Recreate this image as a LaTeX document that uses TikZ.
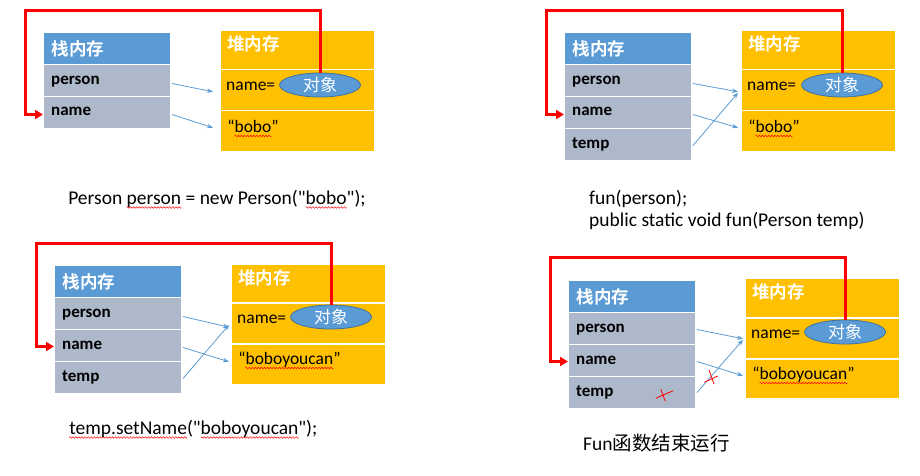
\documentclass[tikz,border=0pt]{standalone}
\usepackage{fontspec}
\setmainfont{Carlito}[Ligatures=TeXOff]
\newfontfamily\cjk{Noto Sans CJK SC}[BoldFont={Noto Sans CJK SC Bold}]
\usetikzlibrary{arrows.meta,shapes.geometric}
\definecolor{stkblue}{HTML}{5B9BD5}
\definecolor{stkgray}{HTML}{ADB9CA}
\definecolor{heaporange}{HTML}{FFC000}
\definecolor{ellborder}{HTML}{41719C}
\definecolor{ptrblue}{HTML}{5B9BD5}
\newsavebox\rwbox
\newcommand\wavepiece{\begin{pgfpicture}\pgfpathrectangle{\pgfpointorigin}{\pgfpoint{3pt}{0pt}}\pgfusepath{use as bounding box}\pgfsetlinewidth{0.5pt}\pgfsetstrokecolor{red}\pgfpathmoveto{\pgfpointorigin}\pgfpathsine{\pgfpoint{0.75pt}{0.8pt}}\pgfpathcosine{\pgfpoint{0.75pt}{-0.8pt}}\pgfpathsine{\pgfpoint{0.75pt}{-0.8pt}}\pgfpathcosine{\pgfpoint{0.75pt}{0.8pt}}\pgfusepath{stroke}\end{pgfpicture}}
\newcommand\redwave[1]{\setbox\rwbox\hbox{#1}\rlap{\lower3.5pt\hbox to\wd\rwbox{\xleaders\hbox{\wavepiece}\hfil}}\box\rwbox}
\begin{document}
\begin{tikzpicture}[x=1pt,y=-1pt,
  stkhead/.style={anchor=north west, fill=stkblue, draw=white, line width=1pt, text=white, minimum height=32pt, text width=111pt, inner xsep=8pt, inner ysep=0pt, align=left, font=\cjk\bfseries\fontsize{17.5}{20}\selectfont},
  stkrow/.style={anchor=north west, fill=stkgray, draw=white, line width=1pt, minimum height=32pt, minimum width=127pt, inner sep=0pt},
  stklbl/.style={anchor=base west, inner sep=0pt, font=\bfseries\fontsize{17}{20}\selectfont},
  heaprow/.style={anchor=north west, fill=heaporange, draw=white, line width=1.5pt, minimum width=155pt, inner sep=0pt},
  htxt/.style={anchor=base west, inner sep=0pt, font=\fontsize{17.5}{20}\selectfont},
  hhead/.style={anchor=west, inner sep=0pt, text=white, font=\cjk\bfseries\fontsize{17.5}{20}\selectfont},
  obj/.style={ellipse, fill=stkblue, draw=ellborder, line width=0.8pt, minimum width=81pt, minimum height=24pt, inner sep=0pt, text=white, font=\cjk\fontsize{17}{20}\selectfont},
  ptr/.style={draw=ptrblue, line width=0.8pt, -{Stealth[length=6pt,width=4.5pt]}},
  refline/.style={draw=red, line width=3pt, -{Triangle[length=8pt,width=9pt]}},
  caption/.style={anchor=base west, inner sep=0pt, font=\fontsize{19.5}{22}\selectfont},
  cross/.style={draw=red, line width=0.8pt}
]
\useasboundingbox (0,0) rectangle (920,476);

% ---------- Panel 1 ----------
\node[stkhead] (s1h) at (43,32) {栈内存};
\node[stkrow] (s1p) at (43,64) {};
\node[stkrow] (s1n) at (43,96) {};
\node[stklbl] (l1p) at ([xshift=8pt,yshift=-21pt]s1p.north west) {person};
\node[stklbl] (l1n) at ([xshift=8pt,yshift=-20pt]s1n.north west) {name};
\node[heaprow, minimum height=39pt] (h1h) at (219,30) {};
\node[heaprow, minimum height=41pt] (h1n) at (219,69) {};
\node[heaprow, minimum height=41pt] (h1v) at (219,110) {};
\node[hhead] (t1h) at ([xshift=8pt,yshift=-14pt]h1h.north west) {堆内存};
\node[htxt] (t1n) at ([xshift=7pt,yshift=-21.5pt]h1n.north west) {name=};
\node[htxt] (t1v) at ([xshift=8pt,yshift=-22.5pt]h1v.north west) {“\redwave{bobo}”};
\node[obj] (e1) at (320,85) {对象};
\draw[ptr] ([xshift=1pt,yshift=-3pt]s1p.east) -- ([xshift=-6pt,yshift=-1.5pt]h1n.west);
\draw[ptr] ([xshift=1pt,yshift=-2pt]s1n.east) -- ([xshift=-6pt,yshift=3.5pt]h1v.west);
\coordinate (r1) at (25,11);
\draw[refline] (e1.north) |- (r1) |- ([yshift=-2pt]s1n.west);
\node[caption] (c1) at (68,204) {Person \redwave{person} = new Person("\redwave{bobo}");};

% ---------- Panel 2 ----------
\node[stkhead] (s2h) at (564,32) {栈内存};
\node[stkrow] (s2p) at (564,64) {};
\node[stkrow] (s2n) at (564,96) {};
\node[stkrow] (s2t) at (564,128) {};
\node[stklbl] (l2p) at ([xshift=8pt,yshift=-21pt]s2p.north west) {person};
\node[stklbl] (l2n) at ([xshift=8pt,yshift=-20pt]s2n.north west) {name};
\node[stklbl] (l2t) at ([xshift=8pt,yshift=-20pt]s2t.north west) {temp};
\node[heaprow, minimum height=39pt] (h2h) at (740,30) {};
\node[heaprow, minimum height=41pt] (h2n) at (740,69) {};
\node[heaprow, minimum height=41pt] (h2v) at (740,110) {};
\node[hhead] (t2h) at ([xshift=8pt,yshift=-14pt]h2h.north west) {堆内存};
\node[htxt] (t2n) at ([xshift=7pt,yshift=-21.5pt]h2n.north west) {name=};
\node[htxt] (t2v) at ([xshift=8pt,yshift=-22.5pt]h2v.north west) {“\redwave{bobo}”};
\node[obj] (e2) at (842,85) {对象};
\draw[ptr] ([xshift=1pt,yshift=-3pt]s2p.east) -- ([xshift=-2pt,yshift=-1.5pt]h2n.west);
\draw[ptr] ([xshift=1pt,yshift=-2pt]s2n.east) -- ([xshift=-2pt,yshift=3.5pt]h2v.west);
\draw[ptr] ([xshift=1pt,yshift=-1pt]s2t.east) -- ([xshift=-2pt,yshift=-2.5pt]h2n.west);
\coordinate (r2) at (546,11);
\draw[refline] (e2.north) |- (r2) |- ([yshift=-2pt]s2n.west);
\node[caption] (c2a) at (589,204) {fun(person);};
\node[caption] (c2b) at (589,226) {public static void fun(Person temp)};

% ---------- Panel 3 ----------
\node[stkhead] (s3h) at (54,265) {栈内存};
\node[stkrow] (s3p) at (54,297) {};
\node[stkrow] (s3n) at (54,329) {};
\node[stkrow] (s3t) at (54,361) {};
\node[stklbl] (l3p) at ([xshift=8pt,yshift=-20.5pt]s3p.north west) {person};
\node[stklbl] (l3n) at ([xshift=8pt,yshift=-20pt]s3n.north west) {name};
\node[stklbl] (l3t) at ([xshift=8pt,yshift=-20pt]s3t.north west) {temp};
\node[heaprow, minimum height=39pt] (h3h) at (230,263) {};
\node[heaprow, minimum height=41pt] (h3n) at (230,302) {};
\node[heaprow, minimum height=41pt] (h3v) at (230,343) {};
\node[hhead] (t3h) at ([xshift=8pt,yshift=-15pt]h3h.north west) {堆内存};
\node[htxt] (t3n) at ([xshift=7pt,yshift=-21.5pt]h3n.north west) {name=};
\node[htxt] (t3v) at ([xshift=8pt,yshift=-21.5pt]h3v.north west) {“\redwave{boboyoucan}”};
\node[obj] (e3) at (331,317) {对象};
\draw[ptr] ([xshift=1pt,yshift=-3pt]s3p.east) -- ([xshift=-1pt,yshift=-4pt]h3n.west);
\draw[ptr] ([xshift=1pt,yshift=-2pt]s3n.east) -- ([xshift=-1pt,yshift=2.5pt]h3v.west);
\draw[ptr] ([xshift=1pt,yshift=-1pt]s3t.east) -- ([xshift=-1pt,yshift=-1.5pt]h3n.west);
\coordinate (r3) at (36,243);
\draw[refline] (e3.north) |- (r3) |- ([yshift=-1pt]s3n.west);
\node[caption] (c3) at (69,434) {\redwave{temp.setName}("\redwave{boboyoucan}");};

% ---------- Panel 4 ----------
\node[stkhead] (s4h) at (568,280) {栈内存};
\node[stkrow] (s4p) at (568,312) {};
\node[stkrow] (s4n) at (568,344) {};
\node[stkrow] (s4t) at (568,376) {};
\node[stklbl] (l4p) at ([xshift=8pt,yshift=-20.5pt]s4p.north west) {person};
\node[stklbl] (l4n) at ([xshift=8pt,yshift=-20pt]s4n.north west) {name};
\node[stklbl] (l4t) at ([xshift=8pt,yshift=-20pt]s4t.north west) {temp};
\node[heaprow, minimum height=40pt] (h4h) at (744,277) {};
\node[heaprow, minimum height=41pt] (h4n) at (744,317) {};
\node[heaprow, minimum height=40pt] (h4v) at (744,358) {};
\node[hhead] (t4h) at ([xshift=8pt,yshift=-15pt]h4h.north west) {堆内存};
\node[htxt] (t4n) at ([xshift=7pt,yshift=-21.5pt]h4n.north west) {name=};
\node[htxt] (t4v) at ([xshift=8pt,yshift=-21.5pt]h4v.north west) {“\redwave{boboyoucan}”};
\node[obj] (e4) at (845,332) {对象};
\draw[ptr] ([xshift=1pt,yshift=-1pt]s4p.east) -- ([xshift=-1pt,yshift=-0.5pt]h4n.west);
\draw[ptr] ([xshift=1pt,yshift=-1pt]s4n.east) -- ([xshift=-1pt,yshift=3pt]h4v.west);
\draw[ptr] ([xshift=1pt,yshift=0pt]s4t.east) -- ([xshift=-1pt,yshift=-1.5pt]h4n.west);
\coordinate (r4) at (550,257);
\draw[refline] (e4.north) |- (r4) |- ([yshift=-1pt]s4n.west);
\draw[cross] (655.7,398.3) -- (673.3,390.7) (660.7,389.3) -- (665.3,401.3);
\draw[cross] (704.3,382.3) -- (717.7,376) (709,370) -- (714,384);
\node[caption] (c4) at (583,450) {Fun{\cjk 函数结束运行}};
\end{tikzpicture}
\end{document}
